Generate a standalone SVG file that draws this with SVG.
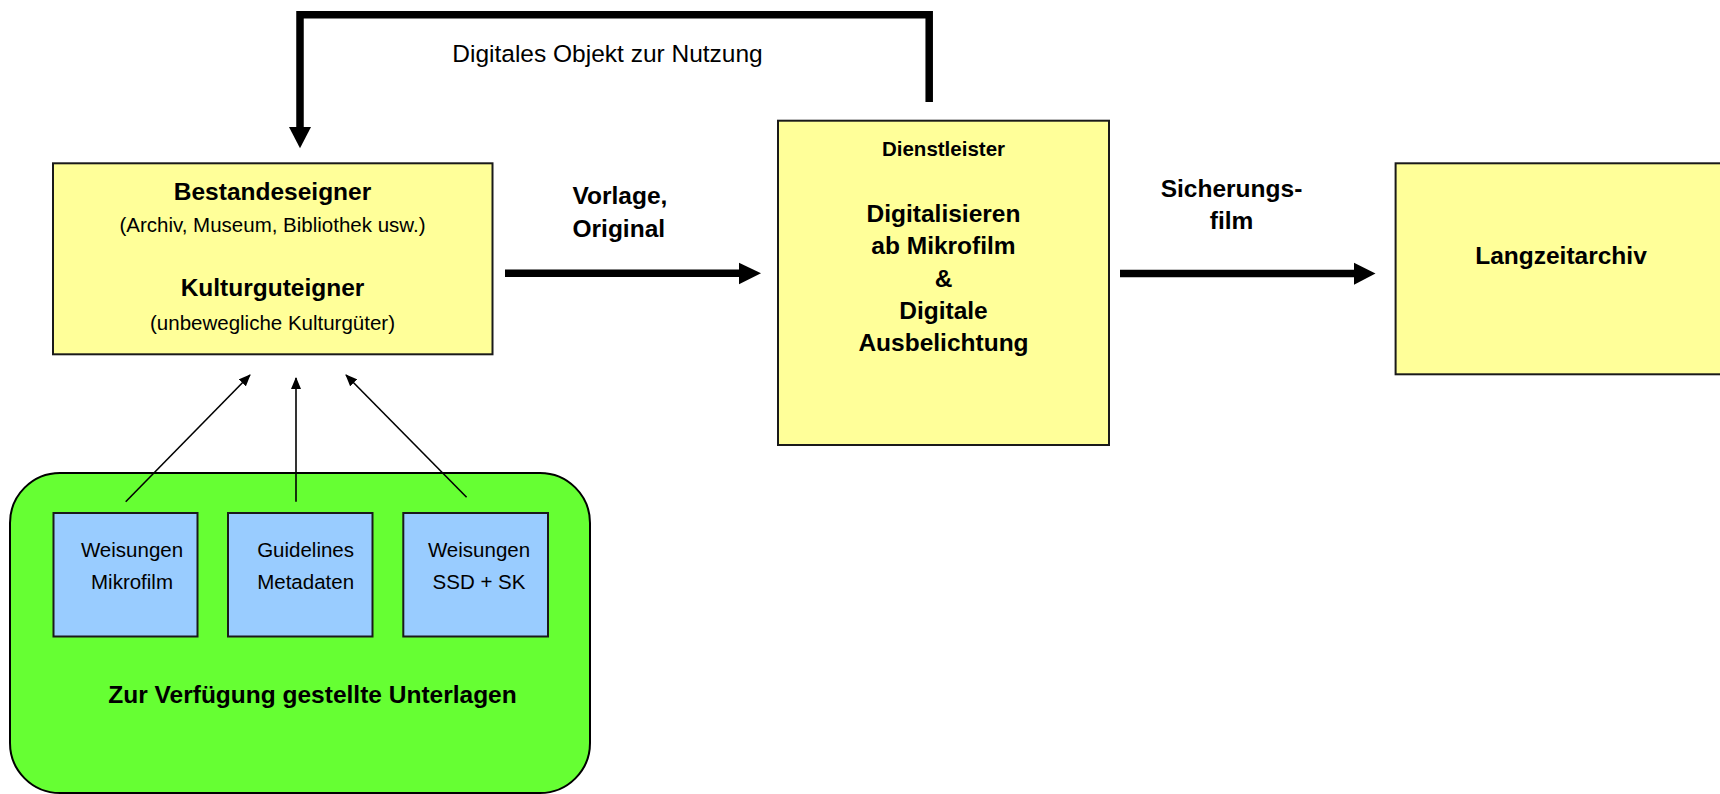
<svg xmlns="http://www.w3.org/2000/svg" width="1720" height="794" viewBox="0 0 1720 794">
<style>
.box{fill:#FFFF99;stroke:#1a1a1a;stroke-width:2}
.blue{fill:#99CCFF;stroke:#1a1a1a;stroke-width:2}
.green{fill:#66FF33;stroke:#000;stroke-width:2}
text{font-family:"Liberation Sans",Arial,sans-serif;fill:#000;text-anchor:middle}
.b{font-weight:bold;font-size:24.5px}
.r{font-size:24.5px}
.s{font-size:20.5px}
.sb{font-size:20.5px;font-weight:bold}
.thick{fill:none;stroke:#000;stroke-width:7.5;stroke-linecap:butt}
.thin{fill:none;stroke:#000;stroke-width:1.6}
</style>
<defs>
<marker id="ah" markerWidth="12" markerHeight="10" refX="11" refY="5" orient="auto" markerUnits="userSpaceOnUse">
<path d="M0,0 L12,5 L0,10 Z" fill="#000"/>
</marker>
</defs>
<g id="unterlagen">
<rect class="green" x="10" y="473" width="580" height="320" rx="50" ry="50"/>
<text class="b" x="312.5" y="703.3">Zur Verfügung gestellte Unterlagen</text>
</g>
<g id="weisungen-mikrofilm">
<rect class="blue" x="53.5" y="513" width="144" height="123.5"/>
<text class="s" x="132" y="556.7">Weisungen</text>
<text class="s" x="132" y="589.3">Mikrofilm</text>
</g>
<g id="guidelines-metadaten">
<rect class="blue" x="228" y="513" width="144.5" height="123.5"/>
<text class="s" x="305.6" y="556.7">Guidelines</text>
<text class="s" x="305.6" y="589.3">Metadaten</text>
</g>
<g id="weisungen-ssd">
<rect class="blue" x="403.3" y="513" width="144.7" height="123.5"/>
<text class="s" x="479" y="556.7">Weisungen</text>
<text class="s" x="479" y="589.3">SSD + SK</text>
</g>
<g id="bestandeseigner">
<rect class="box" x="53" y="163.3" width="439.5" height="191"/>
<text class="b" x="272.5" y="199.5">Bestandeseigner</text>
<text class="s" x="272.5" y="231.7">(Archiv, Museum, Bibliothek usw.)</text>
<text class="b" x="272.5" y="296">Kulturguteigner</text>
<text class="s" x="272.5" y="330">(unbewegliche Kulturgüter)</text>
</g>
<g id="dienstleister">
<rect class="box" x="778" y="120.7" width="331" height="324.3"/>
<text class="sb" x="943.5" y="156">Dienstleister</text>
<text class="b" x="943.5" y="221.7">Digitalisieren</text>
<text class="b" x="943.5" y="254">ab Mikrofilm</text>
<text class="b" x="943.5" y="286.7">&amp;</text>
<text class="b" x="943.5" y="318.5">Digitale</text>
<text class="b" x="943.5" y="350.7">Ausbelichtung</text>
</g>
<g id="langzeitarchiv">
<rect class="box" x="1395.6" y="163.3" width="340" height="211"/>
<text class="b" x="1561" y="264">Langzeitarchiv</text>
</g>
<g id="connectors">
<polyline class="thick" points="929.2,102 929.2,14.7 300,14.7 300,128" style="stroke-linejoin:miter"/>
<polygon points="289,127 311,127 300,148.3" fill="#000"/>
<text class="r" x="607.5" y="61.5">Digitales Objekt zur Nutzung</text>
<line class="thick" x1="505" y1="273.3" x2="740" y2="273.3"/>
<polygon points="739,262.7 761,273.3 739,284.3" fill="#000"/>
<text class="b" x="572.5" y="204" style="text-anchor:start">Vorlage,</text>
<text class="b" x="572.5" y="237" style="text-anchor:start">Original</text>
<line class="thick" x1="1120" y1="273.5" x2="1355" y2="273.5"/>
<polygon points="1354,262.7 1375.5,273.5 1354,284.7" fill="#000"/>
<text class="b" x="1231.5" y="196.7">Sicherungs-</text>
<text class="b" x="1231.5" y="229">film</text>
<line class="thin" x1="125.7" y1="501.7" x2="250" y2="375" marker-end="url(#ah)"/>
<line class="thin" x1="296" y1="501.7" x2="296" y2="378" marker-end="url(#ah)"/>
<line class="thin" x1="466.6" y1="497.3" x2="346" y2="375" marker-end="url(#ah)"/>
</g>
</svg>
